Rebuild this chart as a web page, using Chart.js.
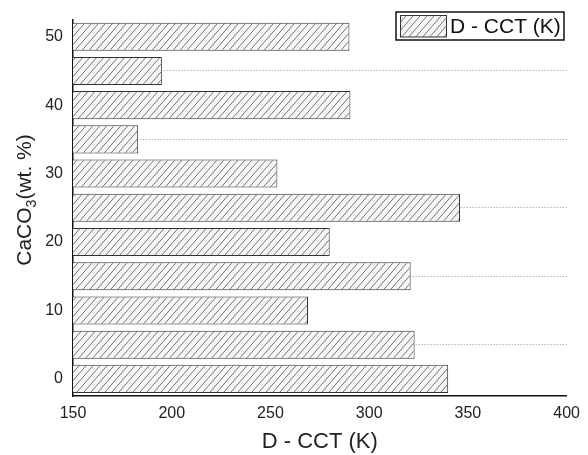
<!DOCTYPE html>
<html><head><meta charset="utf-8">
<script src="https://cdn.jsdelivr.net/npm/chart.js@4.4.1/dist/chart.umd.min.js"></script>
<style>html,body{margin:0;padding:0;background:#fff}#wrap{width:588px;height:455px}</style>
</head><body><div id="wrap"><canvas id="c" width="588" height="455"></canvas></div>
<script>
const categories = ['0','5','10','15','20','25','30','35','40','45','50'];
const dcctValues = [340, 323, 269, 321, 280, 346, 253.5, 183, 290.5, 195, 290];
const xTicks = [150, 200, 250, 300, 350, 400];
const seriesLabel = 'D - CCT (K)';
const xTitle = 'D - CCT (K)';

const FONT = "'Liberation Sans', Arial, sans-serif";

function hatch() {
  const w = 7, h = 8;
  const c = document.createElement('canvas');
  c.width = w; c.height = h;
  const g = c.getContext('2d');
  g.fillStyle = '#f6f6f6';
  g.fillRect(0, 0, w, h);
  g.strokeStyle = '#666';
  g.lineWidth = 0.9;
  g.beginPath();
  g.moveTo(-w, 2*h); g.lineTo(2*w, -h);
  g.moveTo(-2*w, 2*h); g.lineTo(w, -h);
  g.moveTo(0, 2*h); g.lineTo(3*w, -h);
  g.stroke();
  return g.createPattern(c, 'repeat');
}
const pattern = hatch();

const yTitlePlugin = {
  id: 'yTitle',
  afterDraw(chart) {
    const ctx = chart.ctx;
    ctx.save();
    ctx.translate(25, 200);
    ctx.rotate(-Math.PI / 2);
    ctx.fillStyle = '#222';
    ctx.textBaseline = 'middle';
    const big = '21px ' + FONT, small = '14px ' + FONT;
    ctx.font = big; const w1 = ctx.measureText('CaCO').width;
    ctx.font = small; const w2 = ctx.measureText('3').width;
    ctx.font = big; const w3 = ctx.measureText('(wt. %)').width;
    let x = -(w1 + w2 + w3) / 2;
    ctx.textAlign = 'left';
    ctx.font = big; ctx.fillText('CaCO', x, 0); x += w1;
    ctx.font = small; ctx.fillText('3', x, 7); x += w2;
    ctx.font = big; ctx.fillText('(wt. %)', x, 0);
    ctx.restore();
  }
};

const legendPlugin = {
  id: 'boxLegend',
  afterDraw(chart) {
    const ctx = chart.ctx;
    ctx.save();
    ctx.fillStyle = '#fff';
    ctx.fillRect(396, 12, 168, 28);
    ctx.strokeStyle = '#111';
    ctx.lineWidth = 1.5;
    ctx.strokeRect(396, 12, 168, 28);
    ctx.fillStyle = pattern;
    ctx.fillRect(400, 15.5, 46, 21.5);
    ctx.strokeStyle = '#333';
    ctx.lineWidth = 1;
    ctx.strokeRect(400.5, 15.5, 46, 21.5);
    ctx.fillStyle = '#111';
    ctx.font = '21px ' + FONT;
    ctx.textBaseline = 'middle';
    ctx.textAlign = 'left';
    ctx.fillText(chart.data.datasets[0].label, 450, 27);
    ctx.restore();
  }
};

new Chart(document.getElementById('c'), {
  type: 'bar',
  data: {
    labels: categories,
    datasets: [{
      label: seriesLabel,
      data: dcctValues,
      backgroundColor: pattern,
      borderColor: '#333',
      borderWidth: 1,
      borderSkipped: false,
      categoryPercentage: 1,
      barPercentage: 0.82
    }]
  },
  options: {
    indexAxis: 'y',
    responsive: false,
    animation: false,
    layout: { padding: { top: 8, right: 18, left: 0, bottom: 0 } },
    plugins: { legend: { display: false }, tooltip: { enabled: false } },
    scales: {
      x: {
        type: 'linear',
        min: 150, max: 400,
        afterBuildTicks(s) { s.ticks = xTicks.map(v => ({ value: v })); },
        afterFit(s) { s.height = 59; },
        grid: { display: false, drawTicks: false },
        border: { display: true, color: '#111', width: 1.5 },
        ticks: { font: { family: FONT, size: 16 }, color: '#222', padding: 8 },
        title: { display: true, text: xTitle, font: { family: FONT, size: 22 }, color: '#222', padding: { top: 3, bottom: 0 } }
      },
      y: {
        type: 'category',
        reverse: true,
        afterFit(s) { s.width = 73; },
        grid: {
          offset: false,
          drawTicks: false,
          color: (c) => (c.index % 2 === 1 ? '#b8b8b8' : 'rgba(0,0,0,0)'),
          lineWidth: 1
        },
        border: { display: true, color: '#111', width: 1.5, dash: [1.5, 1.5] },
        ticks: {
          autoSkip: false,
          padding: 10,
          font: { family: FONT, size: 16 },
          color: '#222',
          callback(v, i) { return i % 2 === 0 ? categories[i] : ''; }
        }
      }
    }
  },
  plugins: [yTitlePlugin, legendPlugin]
});
</script>
</body></html>
